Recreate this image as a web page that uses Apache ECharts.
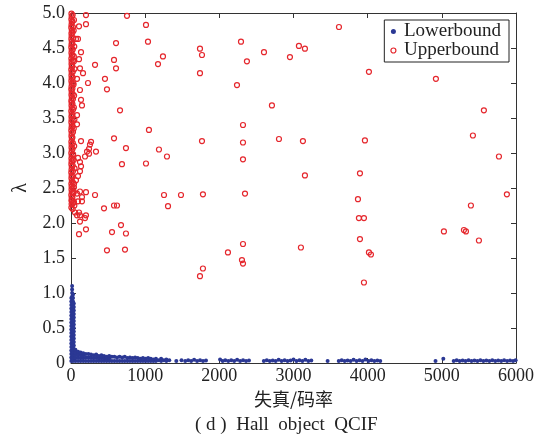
<!DOCTYPE html>
<html><head><meta charset="utf-8">
<script src="https://cdn.jsdelivr.net/npm/echarts@6/dist/echarts.min.js"></script>
<style>html,body{margin:0;padding:0;background:#fff}#c{width:550px;height:441px}</style>
</head><body><div id="c"></div>
<script>
// ---- data ----
const xTicks = [0, 1000, 2000, 3000, 4000, 5000, 6000];
const yTicks = ['0', '0.5', '1.0', '1.5', '2.0', '2.5', '3.0', '3.5', '4.0', '4.5', '5.0'];
const seriesNames = ['Lowerbound', 'Upperbound'];
const xLabel = '失真/码率';
const yLabel = 'λ';
const caption = '( d )  Hall  object  QCIF';

// Lowerbound: spike near zero
const lowerSpike = [
 [4,0.03],[4,0.08],[4,0.13],[4,0.18],[4,0.23],[4,0.28],[4,0.33],[4,0.38],[4,0.43],[4,0.48],[4,0.53],[4,0.58],[4,0.63],[4,0.68],[4,0.73],[4,0.78],[4,0.83],[4,0.88],[4,0.93],
 [15,0.05],[15,0.1],[15,0.15],[15,0.2],[15,0.25],[15,0.3],[15,0.35],[15,0.4],[15,0.45],[15,0.5],[15,0.55],[15,0.6],[15,0.65],[15,0.7],[15,0.75],[15,0.8],[15,0.85],[15,0.9],[15,0.95],[15,1.0],[15,1.05],[15,1.1],
 [27,0.03],[27,0.08],[27,0.13],[27,0.18],[27,0.23],[27,0.28],[27,0.33],[27,0.38],[27,0.43],[27,0.48],[27,0.53],[27,0.58],[27,0.63],[27,0.68],[27,0.73],[27,0.78],[27,0.83],[27,0.88],[27,0.93],[27,0.98],
 [38,0.05],[38,0.1],[38,0.15],[38,0.2],[38,0.25],[38,0.3],[38,0.35],[38,0.4],[38,0.45],[38,0.5],[38,0.55],[38,0.6],[38,0.65],[38,0.7],[38,0.75],[38,0.8],[38,0.85]
];
// Lowerbound: decaying band 60..1330
const lowerBand = [
 [60,0.03],[60,0.07],[60,0.11],[60,0.15],[60,0.19],
 [95,0.03],[95,0.075],[95,0.12],[95,0.16],
 [130,0.03],[130,0.07],[130,0.11],[130,0.15],
 [165,0.03],[165,0.07],[165,0.11],[165,0.14],
 [200,0.03],[200,0.08],[200,0.13],
 [235,0.03],[235,0.08],[235,0.13],
 [270,0.03],[270,0.075],[270,0.12],
 [305,0.03],[305,0.07],[305,0.11],
 [340,0.03],[340,0.075],[340,0.12],
 [375,0.03],[375,0.065],[375,0.1],
 [410,0.03],[410,0.07],[410,0.11],
 [445,0.03],[445,0.065],[445,0.1],
 [480,0.03],[480,0.06],[480,0.09],
 [515,0.03],[515,0.065],[515,0.1],
 [550,0.03],[550,0.09],[585,0.03],[585,0.09],[620,0.03],[620,0.08],[655,0.03],[655,0.09],
 [690,0.03],[690,0.08],[725,0.03],[725,0.09],[760,0.03],[760,0.07],[795,0.03],[795,0.08],
 [830,0.03],[830,0.07],[865,0.03],[865,0.08],[900,0.03],[900,0.07],[935,0.03],[935,0.06],
 [970,0.03],[970,0.07],[1005,0.03],[1005,0.06],[1040,0.03],[1040,0.07],[1075,0.03],[1075,0.06],
 [1110,0.03],[1110,0.05],[1145,0.03],[1145,0.06],[1180,0.04],[1215,0.03],[1215,0.06],
 [1250,0.04],[1285,0.03],[1285,0.05],[1325,0.04]
];
// Lowerbound: thin segments beyond 1400
const lowerTail = [
 [1420,0.03],[1490,0.04],
 [1540,0.03],[1580,0.04],[1620,0.03],[1660,0.045],[1700,0.03],[1740,0.04],[1780,0.03],[1820,0.035],
 [2010,0.05],[2045,0.03],[2080,0.04],[2120,0.03],[2160,0.04],[2200,0.03],[2240,0.045],[2280,0.03],[2320,0.04],[2360,0.03],[2400,0.035],
 [2600,0.03],[2640,0.04],[2680,0.03],[2720,0.035],[2760,0.03],[2800,0.045],[2840,0.03],[2880,0.04],[2920,0.03],[2960,0.035],[3000,0.05],[3040,0.03],[3080,0.04],[3120,0.03],[3160,0.045],[3200,0.03],[3240,0.035],
 [3460,0.03],
 [3610,0.03],[3650,0.04],[3690,0.03],[3730,0.035],[3770,0.03],[3810,0.045],[3850,0.03],[3890,0.04],[3930,0.03],[3970,0.05],[4010,0.03],[4050,0.04],[4090,0.03],[4130,0.035],[4170,0.03],
 [4915,0.03],[5020,0.06],
 [5160,0.03],[5200,0.04],[5240,0.03],[5280,0.035],[5320,0.03],[5360,0.04],[5400,0.03],[5440,0.035],[5480,0.03],[5520,0.04],[5560,0.03],[5600,0.035],[5640,0.03],[5680,0.04],[5720,0.03],[5760,0.035],[5800,0.03],[5840,0.04],[5880,0.03],[5920,0.035],[5960,0.03],[5995,0.04]
];

// Upperbound: dense column near x = 0
const upperColumn = [
 [6,4.99],[9,4.95],[5,4.91],[10,4.87],[7,4.83],[4,4.79],[11,4.75],[6,4.71],[8,4.67],[5,4.63],[10,4.59],[7,4.55],[4,4.51],[9,4.47],[6,4.43],[11,4.39],[5,4.35],[8,4.31],[7,4.27],[10,4.23],
 [4,4.19],[9,4.15],[6,4.11],[8,4.07],[5,4.03],[10,3.99],[7,3.95],[4,3.91],[9,3.87],[6,3.83],[11,3.79],[5,3.75],[8,3.72],[7,3.68],[10,3.64],[4,3.6],[9,3.56],[6,3.52],[8,3.48],[5,3.44],
 [10,3.4],[7,3.36],[4,3.32],[9,3.28],[6,3.24],[11,3.2],[5,3.16],[8,3.12],[7,3.08],[10,3.04],[4,3.0],[9,2.96],[6,2.92],[8,2.88],[5,2.84],[10,2.8],[7,2.76],[4,2.72],[9,2.68],[6,2.64],
 [11,2.6],[5,2.56],[8,2.52],[7,2.48],[10,2.44],[4,2.4],[9,2.36],[6,2.32],[8,2.27],[5,2.22],
 [22,4.97],[18,4.88],[26,4.8],[20,4.72],[28,4.64],[19,4.56],[24,4.48],[21,4.4],[27,4.32],[18,4.24],[25,4.16],[22,4.08],[29,4.0],[19,3.92],[23,3.84],[26,3.77],[20,3.7],[28,3.62],
 [18,3.54],[24,3.46],[21,3.38],[27,3.3],[19,3.22],[25,3.14],[22,3.06],[29,2.98],[20,2.9],[23,2.82],[26,2.74],[18,2.66],[24,2.58],[21,2.5],[27,2.43],[19,2.36],[25,2.28],[22,2.2],
 [40,4.9],[36,4.75],[44,4.52],[38,4.38],[47,4.2],[35,3.98],[42,3.82],[39,3.65],[46,3.48],[37,3.35],[43,3.1],[36,2.9],[48,2.78],[41,2.56],[38,2.44],[45,2.25]
];
// Upperbound: points close to the axis (x < 400)
const upperNear = [
 [202,4.97],[108,4.81],[202,4.84],[94,4.63],[67,4.63],[135,4.44],[40,4.31],[108,4.34],[324,4.26],[121,4.21],
 [162,4.14],[229,4.0],[81,4.06],[121,3.9],[135,3.76],[148,3.68],[81,3.54],[81,3.41],[135,3.17],[270,3.16],
 [256,3.12],[243,3.06],[216,3.02],[243,2.99],[189,2.95],[337,3.02],[94,2.93],[121,2.87],[135,2.81],[121,2.74],
 [94,2.67],[67,2.61],[40,2.51],[81,2.42],[121,2.45],[202,2.44],[324,2.4],[13,2.32],[40,2.3],[148,2.37],
 [148,2.31],[94,2.31],[54,2.15],[108,2.15],[81,2.11],[121,2.11],[202,2.11],[189,2.07],[121,2.02],[108,1.84],[202,1.91]
];
// Upperbound: scattered points
const upperFar = [
 [755,4.96],[1011,4.83],[607,4.57],[1038,4.59],[1739,4.49],[1766,4.4],[2292,4.59],[2602,4.44],[3073,4.53],[3154,4.49],
 [2952,4.37],[3613,4.8],[1240,4.38],[1173,4.27],[580,4.33],[607,4.21],[2372,4.31],[1739,4.14],[458,4.06],[485,3.91],
 [2238,3.97],[4017,4.16],[4920,4.06],[661,3.61],[2709,3.68],[5567,3.61],[1051,3.33],[2319,3.4],[580,3.21],[741,3.07],
 [1766,3.17],[2319,3.15],[2804,3.2],[3127,3.17],[1186,3.05],[1294,2.95],[687,2.84],[1011,2.85],[2319,2.91],[3154,2.68],
 [1254,2.4],[1483,2.4],[1779,2.41],[2346,2.42],[3963,3.18],[5419,3.25],[5770,2.95],[3896,2.71],[3869,2.34],[5877,2.41],
 [445,2.21],[580,2.25],[620,2.25],[1308,2.24],[674,1.97],[553,1.87],[741,1.85],[485,1.61],[728,1.62],[1779,1.35],
 [1739,1.24],[2319,1.7],[2116,1.58],[2305,1.47],[2319,1.42],[3100,1.65],[3882,2.07],[3950,2.07],[3896,1.77],[4017,1.58],
 [4044,1.55],[3950,1.15],[5028,1.88],[5298,1.9],[5325,1.88],[5392,2.25],[5500,1.75]
];

// ---- chart ----
const SERIF = "'Liberation Serif','DejaVu Serif',serif";
const BLUE = '#2B3894', RED = '#E5262C', AX = '#333';
const lowerData = lowerSpike.concat(lowerBand, lowerTail);
const upperData = upperColumn.concat(upperNear, upperFar);

const chart = echarts.init(document.getElementById('c'), null, {renderer: 'canvas'});
const baseX = {type: 'value', min: 0, max: 6000, interval: 1000, splitLine: {show: false},
  axisLine: {onZero: false, lineStyle: {color: AX, width: 1}}, axisTick: {inside: true, length: 5, lineStyle: {color: AX}}};
const baseY = {type: 'value', min: 0, max: 5, interval: 0.5, splitLine: {show: false},
  axisLine: {onZero: false, lineStyle: {color: AX, width: 1}}, axisTick: {inside: true, length: 5, lineStyle: {color: AX}}};

chart.setOption({
  animation: false,
  backgroundColor: '#fff',
  grid: {left: 71, right: 34, top: 13, bottom: 78},
  xAxis: [
    Object.assign({}, baseX, {position: 'bottom', name: xLabel, nameLocation: 'middle', nameGap: 15,
      nameTextStyle: {fontFamily: "'Noto Sans CJK SC'", fontSize: 18, color: '#222'},
      axisLabel: {margin: 4, fontFamily: SERIF, fontSize: 18, color: '#222',
        formatter: v => String(xTicks[Math.round(v / 1000)])}}),
    Object.assign({}, baseX, {position: 'top', axisLabel: {show: false}})
  ],
  yAxis: [
    Object.assign({}, baseY, {position: 'left', name: yLabel, nameLocation: 'middle', nameGap: 40,
      nameTextStyle: {fontFamily: SERIF, fontSize: 20, color: '#222'},
      axisLabel: {margin: 6, fontFamily: SERIF, fontSize: 18, color: '#222',
        formatter: v => yTicks[Math.round(v / 0.5)]}}),
    Object.assign({}, baseY, {position: 'right', axisLabel: {show: false}})
  ],
  legend: {
    orient: 'vertical', right: 41, top: 20, padding: [2, 8, 2, 6], itemGap: 0,
    borderColor: '#222', borderWidth: 1, backgroundColor: '#fff',
    itemWidth: 11, itemHeight: 5,
    textStyle: {fontFamily: SERIF, fontSize: 19, color: '#222', lineHeight: 18},
    data: [
      {name: seriesNames[0], icon: 'circle', itemStyle: {color: BLUE}},
      {name: seriesNames[1], icon: 'circle', itemStyle: {color: '#fff', borderColor: RED, borderWidth: 1.2}}
    ]
  },
  graphic: [{type: 'text', left: 195, top: 416,
    style: {text: caption, font: "19px 'Liberation Serif','Noto Sans CJK SC'", fill: '#222'}}],
  series: [
    {name: seriesNames[0], type: 'scatter', xAxisIndex: 0, yAxisIndex: 0, data: lowerData,
      symbol: 'circle', symbolSize: 4, itemStyle: {color: BLUE, opacity: 1}, z: 2},
    {name: seriesNames[1], type: 'scatter', xAxisIndex: 0, yAxisIndex: 0, data: upperData,
      symbol: 'circle', symbolSize: 5, itemStyle: {color: 'rgba(255,255,255,0)', borderColor: RED, borderWidth: 1.2, opacity: 1}, z: 3}
  ]
});
</script></body></html>
